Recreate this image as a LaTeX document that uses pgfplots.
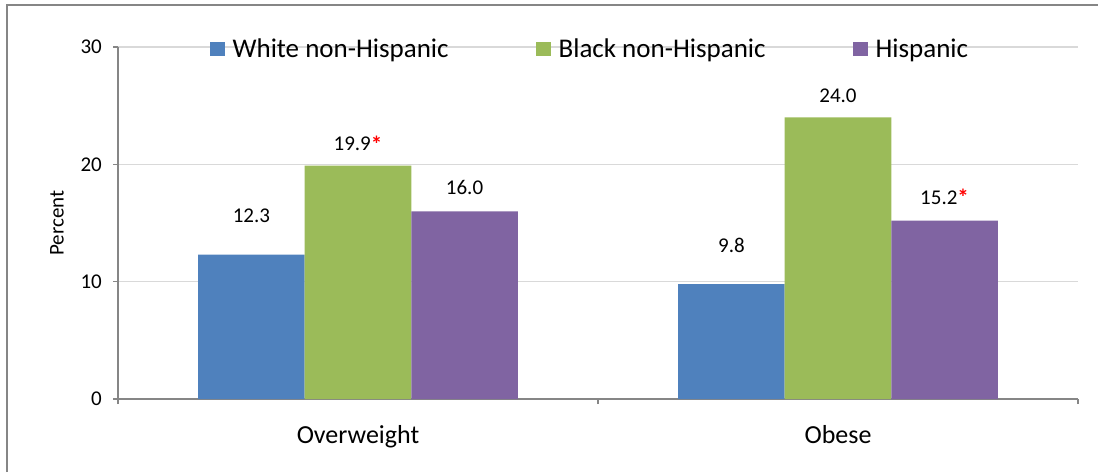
\documentclass[border=0pt]{standalone}
\usepackage{pgfplots}
\pgfplotsset{compat=1.18}
\usepackage{fontspec}
\setmainfont{Carlito}
\definecolor{cblue}{HTML}{4F81BD}
\definecolor{cgreen}{HTML}{9BBB59}
\definecolor{cpurple}{HTML}{8064A2}
\definecolor{gridc}{HTML}{D9D9D9}
\definecolor{axisc}{HTML}{868686}
\newcommand{\redstar}{\raisebox{-1.5pt}{\textcolor{red}{\fontsize{23}{23}\selectfont\textbf{*}}}}
\pgfplotsset{sqlegend/.style={legend image code/.code={\fill[##1,draw=none] (0pt,-7.25pt) rectangle (15pt,7.25pt);}}}
\begin{document}
\begin{tikzpicture}[x=1pt,y=1pt]
\useasboundingbox (0,0) rectangle (1098,472);
\draw[axisc, line width=1.5pt] (7,0) -- (7,467) -- (1098,467);
\begin{axis}[
  at={(118pt,73pt)}, anchor=south west,
  scale only axis, width=960pt, height=352pt,
  xmin=-0.5, xmax=1.5, ymin=0, ymax=30,
  axis x line*=bottom, axis y line*=left,
  axis line style={axisc, line width=1.2pt, -},
  xtick={-0.5,0.5,1.5}, xticklabels={},
  extra x ticks={0,1}, extra x tick labels={Overweight,Obese},
  extra x tick style={major tick length=0pt, grid=none,
     xticklabel style={font=\fontsize{26}{30}\selectfont, anchor=base, yshift=-44pt, inner sep=0pt}},
  ytick={0,10,20,30},
  ymajorgrids, grid style={gridc, line width=1.2pt},
  tick style={axisc, line width=1.2pt},
  tick align=outside, major tick length=5pt,
  /pgf/number format/assume math mode=true,
  yticklabel style={font=\fontsize{21}{25}\selectfont, inner sep=0pt, xshift=-11pt},
  ylabel={Percent},
  every axis y label/.style={at={(axis description cs:-0.0635,0.5)}, rotate=90, anchor=center, font=\fontsize{21}{25}\selectfont},
  ybar, bar width=0.222,
  point meta=explicit symbolic,
  nodes near coords,
  nodes near coords style={font=\fontsize{21}{25}\selectfont, anchor=base, inner sep=0pt, text=black},
  legend style={at={(axis description cs:0.4915,0.994)}, anchor=center, draw=none, fill=none,
     font=\fontsize{27}{30}\selectfont, legend columns=3,
     /tikz/every odd column/.append style={column sep=6pt},
     /tikz/every even column/.append style={column sep=85pt}},
]
\addplot[fill=cblue, draw=none, bar shift=-0.222, sqlegend, nodes near coords style={yshift=32pt}]
  coordinates {(0,12.3) [12.3] (1,9.8) [9.8]};
\addplot[fill=cgreen, draw=none, bar shift=0, sqlegend, nodes near coords style={yshift=15pt}]
  coordinates {(0,19.9) [19.9\redstar] (1,24.0) [24.0]};
\addplot[fill=cpurple, draw=none, bar shift=0.222, sqlegend, nodes near coords style={yshift=16.5pt}]
  coordinates {(0,16.0) [16.0] (1,15.2) [15.2\redstar]};
\legend{White non-Hispanic, Black non-Hispanic, Hispanic}
\end{axis}
\end{tikzpicture}
\end{document}
